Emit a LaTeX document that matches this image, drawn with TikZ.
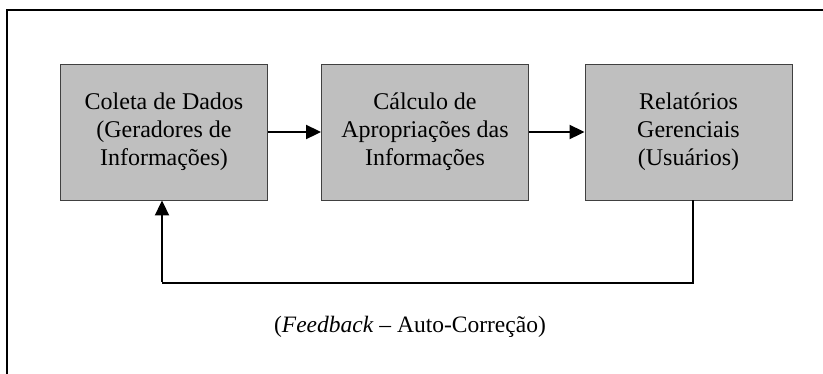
\documentclass[tikz,border=0pt]{standalone}
\usepackage{fontspec}
\setmainfont{Liberation Serif}
\usetikzlibrary{arrows.meta}
\begin{document}
\begin{tikzpicture}[x=1pt,y=-1pt,
  procbox/.style={draw=black!75, line width=0.9pt, fill=black!25, minimum width=207pt, minimum height=136pt, align=center, inner sep=0pt, font=\fontsize{24}{28}\selectfont},
  flow/.style={line width=2pt, -{Triangle[length=15pt,width=14pt]}},
  fb/.style={line width=2pt}]
\useasboundingbox (0,0) rectangle (823,373);
\draw[line width=2.4pt] (7,10) rectangle (840,390);
\node[procbox] (a) at (164,132) {Coleta de Dados\\(Geradores de\\Informações)};
\node[procbox] (b) at (425,132) {Cálculo de\\Apropriações das\\Informações};
\node[procbox] (c) at (688.5,132) {Relatórios\\Gerenciais\\(Usuários)};
\draw[flow] (a.east) -- (b.west);
\draw[flow] (b.east) -- (c.west);
\coordinate (r) at (693,283);
\coordinate (l) at (162,283);
\draw[fb] (c.south -| r) -- (r) -- (l);
\draw[flow] ([yshift=1pt]l) -- (l |- a.south);
\node[font=\fontsize{23.5}{28}\selectfont] (t) at (410,327) {(\textit{Feedback} – Auto-Correção)};
\end{tikzpicture}
\end{document}
